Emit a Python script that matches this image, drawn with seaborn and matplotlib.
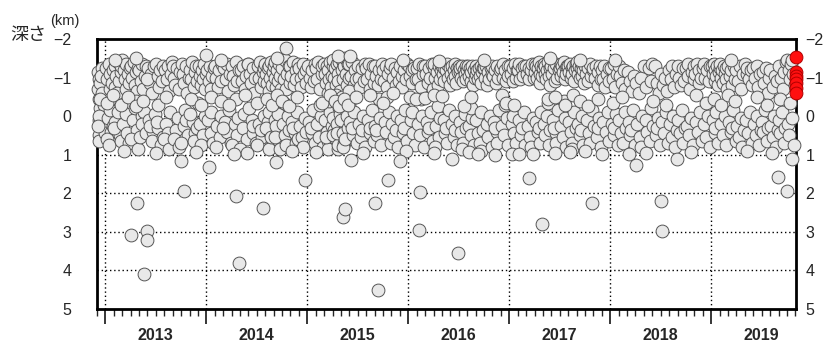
import numpy as np
import pandas as pd
import seaborn as sns
import matplotlib
matplotlib.use('agg')
import matplotlib.pyplot as plt

# (month of year, depth km), one list per year
ev2012 = [(11.1,-1.15),(11.2,-0.95),(11.1,-0.7),(11.3,-0.45),(11.2,0.1),(11.4,-0.2),(11.5,0.35),(11.3,0.5),(11.6,-1.25),
          (11.2,0.65),(11.4,-0.85),(11.7,0.2),(11.5,-1.05),(11.8,-0.3),(11.3,0.0),(11.6,-0.6),(11.9,0.45),(11.1,0.25)]

ev2013 = [(0.1,-1.25),(0.2,-0.95),(0.4,-1.35),(0.5,-0.7),(0.6,-1.1),(0.8,-0.85),(0.9,-1.2),(0.3,0.05),(0.7,0.4),(0.5,-0.15),(0.2,0.6),(0.9,0.25),(0.6,-0.45),(0.4,0.75),
          (1.1,-1.3),(1.3,-1.05),(1.2,-0.75),(1.5,-1.4),(1.6,-0.9),(1.8,-1.15),(1.4,-0.6),(1.9,-1.3),(1.2,0.15),(1.7,0.5),(1.5,-0.1),(1.0,0.3),(1.8,0.65),
          (2.0,-1.45),(2.2,-1.2),(2.3,-0.95),(2.5,-1.35),(2.4,-0.7),(2.7,-1.1),(2.8,-0.85),(2.9,-1.25),(2.1,0.2),(2.6,0.45),(2.4,-0.05),(2.8,0.7),(2.2,0.9),
          (3.1,-1.3),(3.2,-1.0),(3.4,-1.4),(3.5,-0.8),(3.6,-1.15),(3.8,-0.65),(3.9,-1.25),(3.3,0.1),(3.7,0.35),(3.5,-0.2),(3.0,0.6),(3.9,0.85),(3.6,-0.4),
          (4.0,-1.2),(4.2,-0.9),(4.4,-1.35),(4.5,-0.7),(4.7,-1.05),(4.8,-1.3),(4.3,0.0),(4.9,0.3),(4.1,0.55),(4.6,-0.1),(4.4,0.2),(4.8,0.45),
          (5.1,-1.25),(5.3,-0.85),(5.4,-1.1),(5.6,-0.6),(5.8,-1.3),(5.2,0.1),(5.7,0.4),(5.9,-0.05),(5.5,0.65),(5.3,0.25),(5.0,-0.95),
          (6.0,-1.35),(6.2,-1.05),(6.4,-0.75),(6.5,-1.2),(6.7,-0.9),(6.9,-1.3),(6.3,0.3),(6.8,0.55),(6.6,0.75),(6.1,0.15),
          (7.1,-1.2),(7.3,-0.95),(7.4,-1.3),(7.6,-0.65),(7.8,-1.1),(7.9,-1.4),(7.2,0.2),(7.5,0.45),(7.7,-0.1),(7.0,0.6),(7.6,0.85),
          (8.0,-1.3),(8.2,-1.0),(8.3,-0.8),(8.5,-1.25),(8.7,-0.7),(8.9,-1.15),(8.4,0.35),(8.6,0.05),(8.1,0.6),(8.8,0.8),
          (9.1,-1.35),(9.2,-1.1),(9.4,-0.85),(9.6,-1.3),(9.7,-0.6),(9.9,-1.0),(9.3,0.25),(9.5,-0.15),(9.8,0.5),(9.0,0.7),(9.6,0.1),
          (10.0,-1.2),(10.2,-0.95),(10.3,-1.4),(10.5,-0.75),(10.6,-1.15),(10.8,-1.3),(10.9,-0.9),(10.4,0.15),(10.7,0.45),(10.1,-0.05),(10.5,0.65),(10.9,0.3),
          (11.1,-1.3),(11.3,-1.05),(11.4,-0.8),(11.5,-1.2),(11.6,-0.95),(11.7,-1.35),(11.8,-0.7),(11.9,-1.1),(11.2,0.2),(11.6,0.5),(11.8,0.0),(11.4,0.75),(11.0,-0.35)]

ev2014 = [(0.1,-1.2),(0.3,-0.9),(0.4,-1.3),(0.6,-0.7),(0.7,-1.05),(0.9,-1.25),(0.2,0.1),(0.5,0.45),(0.8,0.7),(0.6,-0.1),
          (1.0,-1.3),(1.2,-1.0),(1.4,-0.75),(1.5,-1.2),(1.7,-0.9),(1.9,-1.35),(1.3,0.25),(1.6,0.55),(1.8,0.0),(1.1,0.8),
          (2.1,-1.25),(2.3,-0.95),(2.4,-1.35),(2.6,-0.65),(2.8,-1.1),(2.2,0.15),(2.5,0.4),(2.7,-0.15),(2.9,0.7),(2.0,0.3),
          (3.0,-1.3),(3.2,-1.05),(3.3,-0.8),(3.5,-1.4),(3.7,-0.9),(3.9,-1.2),(3.4,0.2),(3.6,0.5),(3.8,0.05),(3.1,0.75),(3.5,-0.45),
          (4.1,-1.2),(4.2,-0.9),(4.4,-1.3),(4.6,-0.7),(4.7,-1.05),(4.9,-1.35),(4.3,0.3),(4.5,-0.05),(4.8,0.6),(4.0,0.85),
          (5.0,-1.35),(5.2,-1.1),(5.3,-0.85),(5.5,-1.25),(5.7,-0.6),(5.8,-1.0),(5.4,0.1),(5.6,0.45),(5.9,0.7),(5.1,-0.2),(5.5,0.25),
          (6.1,-1.3),(6.2,-1.0),(6.4,-1.4),(6.5,-0.75),(6.7,-1.15),(6.8,-0.9),(6.9,-1.25),(6.3,0.2),(6.6,0.55),(6.8,0.0),(6.0,0.75),(6.5,0.35),
          (7.0,-1.35),(7.1,-1.1),(7.2,-0.85),(7.3,-1.25),(7.4,-0.65),(7.5,-1.3),(7.6,-1.0),(7.7,-1.4),(7.8,-0.8),(7.9,-1.15),
          (7.3,0.15),(7.6,0.45),(7.5,-0.1),(7.8,0.7),(7.1,0.3),(7.4,0.85),(7.7,0.55),
          (8.0,-1.3),(8.1,-1.0),(8.2,-1.4),(8.3,-0.75),(8.4,-1.2),(8.5,-0.9),(8.6,-1.35),(8.8,-1.05),(8.9,-0.7),
          (8.2,0.1),(8.4,0.4),(8.6,0.65),(8.3,0.25),(8.7,0.85),(8.5,-0.05),(8.1,0.55),
          (9.0,-1.25),(9.2,-0.95),(9.3,-1.45),(9.5,-0.7),(9.6,-1.1),(9.8,-1.3),(9.9,-0.85),(9.1,0.2),(9.4,0.5),(9.7,0.0),(9.5,0.75),(9.2,-0.35),(9.8,0.35),
          (10.0,-1.3),(10.1,-1.05),(10.3,-1.4),(10.4,-0.8),(10.6,-1.2),(10.7,-0.95),(10.9,-1.35),(10.2,0.15),(10.5,0.45),(10.8,-0.1),(10.6,0.7),(10.3,0.3),(10.9,0.6),
          (11.0,-1.25),(11.2,-1.0),(11.3,-0.75),(11.5,-1.35),(11.6,-1.1),(11.8,-0.85),(11.9,-1.2),(11.1,0.25),(11.4,0.55),(11.7,0.05),(11.5,0.8),(11.9,0.4)]

ev2015 = [(0.1,-1.3),(0.3,-1.0),(0.4,-0.75),(0.6,-1.2),(0.8,-0.9),(0.9,-1.35),(0.2,0.15),(0.5,0.45),(0.7,-0.15),(0.9,0.7),(0.4,0.3),
          (1.0,-1.25),(1.2,-0.95),(1.3,-1.4),(1.5,-0.7),(1.7,-1.1),(1.8,-1.3),(1.1,0.2),(1.4,0.55),(1.6,0.0),(1.9,0.8),(1.5,-0.3),
          (2.0,-1.35),(2.1,-1.1),(2.2,-0.85),(2.3,-1.3),(2.4,-0.6),(2.5,-1.2),(2.6,-0.95),(2.7,-1.4),(2.8,-0.75),(2.9,-1.05),
          (2.1,0.1),(2.3,0.4),(2.5,0.65),(2.7,-0.1),(2.9,0.25),(2.4,0.85),(2.6,-0.4),(2.2,0.55),
          (3.0,-1.3),(3.1,-1.45),(3.2,-1.0),(3.3,-1.25),(3.4,-0.8),(3.5,-1.35),(3.6,-1.1),(3.7,-0.9),(3.8,-1.4),(3.9,-0.65),
          (3.0,0.05),(3.2,0.35),(3.4,0.6),(3.6,0.85),(3.8,-0.2),(3.1,0.5),(3.3,-0.45),(3.5,0.2),(3.7,0.75),(3.9,-0.05),(3.45,-0.55),(3.55,0.45),
          (4.0,-1.5),(4.1,-1.2),(4.2,-1.4),(4.3,-0.95),(4.4,-1.3),(4.5,-1.5),(4.6,-1.1),(4.7,-0.8),(4.8,-1.35),(4.9,-1.0),
          (4.0,0.1),(4.2,0.45),(4.4,0.7),(4.6,-0.15),(4.8,0.3),(4.1,-0.5),(4.3,0.8),(4.5,0.6),(4.7,0.0),(4.9,-0.3),
          (5.0,-1.35),(5.2,-1.05),(5.3,-1.4),(5.5,-0.8),(5.7,-1.2),(5.8,-0.95),(5.1,0.15),(5.4,0.5),(5.6,-0.1),(5.9,0.7),(5.3,0.3),(5.7,-0.5),(5.0,-0.65),
          (6.0,-1.3),(6.2,-1.0),(6.3,-0.75),(6.5,-1.25),(6.7,-0.9),(6.9,-1.35),(6.1,0.2),(6.4,0.55),(6.6,0.0),(6.8,0.8),(6.5,0.35),
          (7.0,-1.25),(7.1,-0.95),(7.3,-1.35),(7.5,-0.7),(7.6,-1.1),(7.8,-1.3),(7.9,-0.85),(7.2,0.1),(7.4,0.45),(7.7,-0.15),(7.9,0.65),(7.5,0.3),
          (8.0,-1.3),(8.2,-1.05),(8.4,-0.8),(8.5,-1.2),(8.7,-0.95),(8.9,-1.35),(8.1,0.25),(8.3,0.5),(8.6,0.05),(8.8,0.75),(8.5,-0.45),(8.2,0.35),
          (9.0,-1.2),(9.1,-0.9),(9.3,-1.3),(9.5,-0.75),(9.6,-1.1),(9.8,-1.25),(9.2,0.15),(9.4,0.4),(9.7,-0.1),(9.9,0.7),(9.5,-0.5),
          (10.0,-1.35),(10.2,-1.0),(10.4,-1.25),(10.5,-0.8),(10.7,-1.15),(10.9,-0.9),(10.1,0.2),(10.3,0.55),(10.6,0.0),(10.8,0.8),(10.5,0.35),
          (11.0,-1.3),(11.2,-1.05),(11.3,-0.75),(11.5,-1.2),(11.7,-0.95),(11.8,-1.35),(11.1,0.1),(11.4,0.45),(11.6,-0.15),(11.9,0.65),(11.5,0.3)]

ev2016 = [(0.1,-1.3),(0.2,-1.05),(0.4,-1.2),(0.5,-0.85),(0.7,-1.25),(0.9,-0.95),(0.3,0.1),(0.6,0.45),(0.8,0.75),(0.5,-0.1),(0.2,-0.5),
          (1.0,-1.25),(1.2,-0.95),(1.3,-1.35),(1.5,-0.75),(1.7,-1.1),(1.8,-1.3),(1.1,0.2),(1.4,0.5),(1.6,0.0),(1.9,0.8),(1.5,-0.45),
          (2.0,-1.3),(2.1,-1.1),(2.3,-0.85),(2.5,-1.25),(2.6,-1.0),(2.8,-1.35),(2.9,-0.7),(2.2,0.15),(2.4,0.4),(2.7,-0.1),(2.9,0.65),(2.5,0.3),
          (3.0,-1.25),(3.1,-1.35),(3.2,-1.0),(3.4,-1.15),(3.5,-0.8),(3.7,-1.3),(3.8,-0.95),(3.9,-1.2),(3.3,0.25),(3.6,0.55),(3.8,0.05),(3.2,0.8),(3.5,-0.25),
          (4.0,-1.3),(4.1,-1.1),(4.2,-1.25),(4.3,-0.9),(4.5,-1.2),(4.6,-1.35),(4.7,-1.0),(4.9,-0.8),(4.2,0.1),(4.4,0.45),(4.6,0.7),(4.8,-0.15),(4.5,0.3),
          (5.0,-1.25),(5.1,-1.1),(5.2,-1.3),(5.3,-0.95),(5.4,-1.2),(5.5,-1.35),(5.6,-1.05),(5.7,-0.85),(5.8,-1.25),(5.9,-1.15),
          (5.2,0.2),(5.4,0.55),(5.6,0.0),(5.8,0.75),(5.5,0.35),
          (6.0,-1.3),(6.1,-1.15),(6.2,-1.25),(6.3,-1.0),(6.4,-1.3),(6.5,-0.9),(6.6,-1.2),(6.7,-1.1),(6.8,-1.3),(6.9,-0.95),
          (6.1,0.15),(6.3,0.4),(6.5,0.7),(6.7,-0.05),(6.9,0.3),(6.4,0.85),
          (7.0,-1.2),(7.1,-1.3),(7.2,-1.05),(7.3,-1.25),(7.4,-0.9),(7.5,-1.15),(7.6,-1.3),(7.7,-0.8),(7.8,-1.2),(7.9,-1.0),
          (7.2,0.25),(7.4,0.5),(7.6,0.05),(7.8,0.75),(7.5,-0.2),
          (8.0,-1.3),(8.1,-1.1),(8.2,-1.2),(8.3,-0.95),(8.4,-1.25),(8.5,-1.05),(8.6,-1.3),(8.7,-0.85),(8.8,-1.15),(8.9,-1.25),
          (8.1,0.1),(8.3,0.45),(8.5,0.7),(8.7,-0.1),(8.9,0.35),(8.6,0.9),
          (9.0,-1.25),(9.1,-1.0),(9.2,-1.3),(9.4,-0.8),(9.5,-1.15),(9.6,-0.95),(9.8,-1.25),(9.9,-1.1),(9.3,0.2),(9.5,0.55),(9.7,0.0),(9.9,0.8),
          (10.0,-1.3),(10.1,-1.05),(10.3,-1.2),(10.4,-0.85),(10.6,-1.3),(10.7,-1.0),(10.9,-1.2),(10.2,0.15),(10.5,0.4),(10.8,-0.15),(10.6,0.7),(10.3,0.3),
          (11.0,-1.25),(11.2,-1.35),(11.3,-1.0),(11.5,-1.2),(11.6,-0.9),(11.8,-1.3),(11.9,-1.05),(11.1,0.25),(11.4,0.5),(11.7,0.05),(11.9,0.75),(11.5,-0.3)]

ev2017 = [(0.1,-1.3),(0.2,-1.1),(0.4,-1.25),(0.5,-0.9),(0.7,-1.35),(0.8,-1.0),(0.9,-1.2),(0.3,0.2),(0.6,0.45),(0.8,0.7),(0.5,0.0),
          (1.0,-1.2),(1.2,-1.35),(1.3,-0.95),(1.5,-1.25),(1.6,-1.05),(1.8,-1.3),(1.1,0.1),(1.4,0.5),(1.7,-0.1),(1.9,0.75),(1.5,0.3),
          (2.0,-1.3),(2.1,-1.1),(2.3,-1.25),(2.4,-0.95),(2.6,-1.2),(2.7,-1.35),(2.9,-1.0),(2.2,0.25),(2.5,0.55),(2.8,0.05),(2.6,0.8),
          (3.0,-1.35),(3.1,-1.15),(3.2,-1.3),(3.3,-1.0),(3.4,-1.25),(3.5,-1.4),(3.6,-1.1),(3.7,-0.85),(3.8,-1.3),(3.9,-1.05),
          (3.2,0.15),(3.4,0.4),(3.6,0.7),(3.8,-0.1),(3.5,0.3),
          (4.0,-1.25),(4.1,-1.35),(4.2,-1.1),(4.3,-1.3),(4.4,-0.95),(4.5,-1.2),(4.6,-1.4),(4.7,-1.05),(4.8,-1.25),(4.9,-0.8),
          (4.1,0.2),(4.3,0.5),(4.5,0.0),(4.7,0.75),(4.9,0.35),(4.6,-0.35),
          (5.0,-1.3),(5.1,-1.1),(5.3,-1.25),(5.4,-0.9),(5.6,-1.35),(5.7,-1.0),(5.9,-1.2),(5.2,0.1),(5.5,0.45),(5.8,-0.15),(5.6,0.7),(5.3,0.3),
          (6.0,-1.25),(6.1,-1.35),(6.2,-1.05),(6.3,-1.3),(6.4,-1.15),(6.5,-1.4),(6.6,-0.95),(6.7,-1.25),(6.8,-1.1),(6.9,-1.3),
          (6.2,0.25),(6.4,0.55),(6.6,0.05),(6.8,0.8),(6.5,-0.4),
          (7.0,-1.3),(7.1,-1.15),(7.2,-1.35),(7.3,-1.0),(7.4,-1.25),(7.5,-1.1),(7.6,-1.3),(7.7,-0.9),(7.8,-1.2),(7.9,-1.35),
          (7.1,0.15),(7.3,0.4),(7.5,0.7),(7.7,-0.1),(7.9,0.3),(7.4,0.85),
          (8.0,-1.25),(8.1,-1.4),(8.2,-1.1),(8.3,-1.3),(8.4,-1.0),(8.5,-1.25),(8.6,-1.35),(8.7,-1.05),(8.8,-1.2),(8.9,-0.85),
          (8.2,0.2),(8.4,0.5),(8.6,0.0),(8.8,0.75),(8.5,0.35),
          (9.0,-1.3),(9.1,-1.1),(9.3,-1.25),(9.4,-0.9),(9.6,-1.35),(9.7,-1.05),(9.9,-1.2),(9.2,0.1),(9.5,0.45),(9.8,-0.15),(9.6,0.7),
          (10.0,-1.25),(10.2,-1.0),(10.3,-1.3),(10.5,-0.8),(10.6,-1.15),(10.8,-1.3),(10.9,-0.95),(10.1,0.25),(10.4,0.55),(10.7,0.05),(10.9,0.8),(10.5,0.3),
          (11.0,-1.2),(11.1,-0.95),(11.3,-1.3),(11.4,-0.75),(11.6,-1.1),(11.8,-1.25),(11.9,-0.9),(11.2,0.15),(11.5,0.4),(11.7,-0.1),(11.9,0.65)]

ev2018 = [(0.1,-1.25),(0.3,-0.95),(0.4,-1.35),(0.6,-0.75),(0.8,-1.1),(0.2,0.2),(0.5,0.5),(0.7,-0.05),(0.9,0.75),(0.4,0.3),
          (1.0,-1.3),(1.2,-1.05),(1.4,-0.85),(1.6,-1.2),(1.8,-0.7),(1.1,0.1),(1.3,0.45),(1.5,0.7),(1.7,-0.1),(1.9,0.3),
          (2.1,-1.15),(2.3,-0.9),(2.6,-0.65),(2.8,-1.05),(2.2,0.15),(2.4,0.5),(2.7,-0.15),(2.9,0.75),(2.5,0.35),
          (3.1,-0.85),(3.4,-0.6),(3.7,-1.0),(3.2,0.2),(3.5,0.55),(3.8,0.0),(3.6,0.8),
          (4.0,-1.3),(4.3,-0.75),(4.6,-1.25),(4.9,-0.9),(4.2,0.1),(4.4,0.4),(4.7,0.65),(4.8,-0.2),
          (5.0,-1.35),(5.3,-1.3),(5.6,-0.85),(5.8,-0.6),(5.1,0.25),(5.4,0.5),(5.7,0.05),(5.9,0.75),(5.5,0.3),
          (6.0,-1.1),(6.3,-0.8),(6.5,-1.0),(6.8,-0.65),(6.1,0.15),(6.4,0.45),(6.6,-0.1),(6.9,0.7),
          (7.0,-1.2),(7.2,-0.95),(7.4,-1.3),(7.6,-0.75),(7.8,-1.1),(7.1,0.2),(7.3,0.55),(7.5,0.0),(7.7,0.8),(7.9,0.35),
          (8.0,-1.3),(8.2,-1.0),(8.4,-0.8),(8.6,-1.25),(8.8,-0.9),(8.1,0.1),(8.3,0.45),(8.5,-0.15),(8.7,0.7),(8.9,0.3),
          (9.0,-1.25),(9.2,-1.05),(9.3,-1.35),(9.5,-0.7),(9.7,-1.15),(9.9,-0.95),(9.1,0.25),(9.4,0.5),(9.6,0.05),(9.8,0.75),
          (10.0,-1.3),(10.1,-1.1),(10.3,-1.35),(10.5,-0.85),(10.6,-1.2),(10.8,-1.0),(10.2,0.15),(10.4,0.4),(10.7,-0.1),(10.9,0.65),
          (11.0,-1.25),(11.2,-1.35),(11.3,-1.0),(11.5,-1.2),(11.7,-0.9),(11.9,-1.3),(11.1,0.2),(11.4,0.55),(11.6,0.0),(11.8,0.8)]

ev2019 = [(0.1,-1.3),(0.2,-1.1),(0.3,-1.35),(0.4,-0.9),(0.5,-1.2),(0.6,-1.05),(0.7,-1.3),(0.8,-0.8),(0.9,-1.15),
          (0.2,0.1),(0.4,0.45),(0.6,-0.1),(0.8,0.7),(0.5,0.3),
          (1.0,-1.25),(1.1,-1.35),(1.2,-1.0),(1.3,-1.2),(1.4,-0.85),(1.5,-1.3),(1.6,-1.1),(1.7,-0.95),(1.8,-1.25),(1.9,-0.7),
          (1.2,0.2),(1.4,0.5),(1.6,0.0),(1.8,0.75),
          (2.0,-1.3),(2.2,-1.05),(2.3,-1.2),(2.5,-0.8),(2.7,-1.3),(2.8,-0.95),(2.1,0.15),(2.4,0.4),(2.6,-0.15),(2.9,0.65),(2.5,0.3),
          (3.0,-1.2),(3.2,-0.9),(3.4,-1.3),(3.6,-0.7),(3.8,-1.1),(3.1,0.25),(3.3,0.55),(3.5,0.05),(3.7,0.8),(3.9,0.35),
          (4.0,-1.35),(4.2,-1.1),(4.3,-1.25),(4.5,-0.95),(4.7,-1.2),(4.9,-0.8),(4.1,0.1),(4.4,0.45),(4.6,-0.1),(4.8,0.7),
          (5.0,-1.25),(5.2,-1.0),(5.4,-1.3),(5.6,-0.75),(5.8,-1.1),(5.1,0.2),(5.3,0.5),(5.5,0.0),(5.7,0.75),(5.9,0.35),
          (6.1,-1.15),(6.3,-0.85),(6.5,-1.25),(6.7,-0.6),(6.9,-1.0),(6.0,0.15),(6.2,0.4),(6.4,-0.15),(6.6,0.65),(6.8,0.3),
          (7.0,-1.2),(7.3,-0.75),(7.6,-1.05),(7.8,-0.9),(7.1,0.25),(7.4,0.55),(7.5,0.0),(7.7,0.8),(7.9,0.35),
          (8.1,-1.3),(8.3,-1.0),(8.5,-0.7),(8.7,-1.15),(8.9,-1.4),(8.0,0.1),(8.2,0.45),(8.4,-0.1),(8.6,0.7),(8.8,0.3),
          (9.0,-1.45),(9.2,-1.2),(9.4,-0.95),(9.5,-1.35),(9.7,-1.1),(9.9,-0.8),(9.1,0.2),(9.3,0.5),(9.6,0.05),(9.8,0.75)]

# events between the two bands (decimal year, depth)
t_mid = [2012.95, 2013.02, 2013.08, 2013.15, 2013.22, 2013.30, 2013.37, 2013.52, 2013.60, 2013.85, 2013.95,
         2014.05, 2014.15, 2014.22, 2014.38, 2014.50, 2014.60, 2014.65, 2014.70, 2014.75, 2014.82, 2014.90,
         2015.15, 2015.22, 2015.27, 2015.31, 2015.36, 2015.40, 2015.48, 2015.62, 2015.75, 2015.85,
         2016.08, 2016.17, 2016.25, 2016.33, 2016.55, 2016.62, 2016.93, 2016.97, 2017.05, 2017.38,
         2017.45, 2017.55, 2017.63, 2017.70, 2017.78, 2017.88, 2018.03, 2018.12, 2018.42, 2018.55,
         2018.85, 2018.95, 2019.03, 2019.10, 2019.17, 2019.24, 2019.45, 2019.55, 2019.68, 2019.78]
d_mid = [-0.45, -0.35, -0.55, -0.3, -0.5, -0.25, -0.4, -0.3, -0.5, -0.45, -0.3,
         -0.5, -0.4, -0.3, -0.55, -0.35, -0.45, -0.3, -0.55, -0.4, -0.25, -0.5,
         -0.35, -0.55, -0.4, -0.25, -0.45, -0.3, -0.5, -0.55, -0.35, -0.6,
         -0.45, -0.47, -0.55, -0.52, -0.25, -0.5, -0.55, -0.35, -0.3, -0.45,
         -0.5, -0.3, -0.55, -0.4, -0.25, -0.45, -0.35, -0.5, -0.4, -0.3,
         -0.55, -0.35, -0.45, -0.3, -0.55, -0.4, -0.5, -0.3, -0.45, -0.35]

# events on the top and bottom edges of the bands
t_edge = [2013.10, 2013.30, 2014.15, 2014.70, 2015.30, 2015.42, 2015.95, 2016.30, 2016.75, 2017.40, 2017.70,
          2018.05, 2019.20, 2019.80, 2013.50, 2013.90, 2014.40, 2014.85, 2015.55, 2015.98, 2016.25, 2016.60,
          2017.45, 2017.75, 2018.35, 2018.80, 2019.35, 2019.60]
d_edge = [-1.45, -1.5, -1.45, -1.5, -1.55, -1.55, -1.45, -1.42, -1.45, -1.5, -1.45,
          -1.45, -1.45, -1.45, 0.95, 0.92, 0.95, 0.9, 0.95, 0.9, 0.95, 0.92,
          0.95, 0.9, 0.95, 0.92, 0.9, 0.95]

# isolated shallow / deep events (decimal year, depth)
t_single = [2014.0, 2014.79, 2013.31, 2013.25, 2013.41, 2013.41, 2013.38, 2013.75, 2013.78, 2014.03, 2014.27, 2014.29,
            2014.32, 2014.56, 2014.69, 2014.98, 2015.09, 2015.35, 2015.37, 2015.43, 2015.67, 2015.70, 2015.80, 2015.92,
            2016.11, 2016.12, 2016.43, 2016.49, 2016.69, 2016.86, 2017.03, 2017.10, 2017.20, 2017.24, 2017.32, 2017.60,
            2017.82, 2017.92, 2018.19, 2018.26, 2018.50, 2018.51, 2018.66, 2019.66, 2019.75, 2019.80]
d_single = [-1.58, -1.77, 2.26, 3.09, 2.99, 3.2, 4.1, 1.17, 1.95, 1.33, 0.99, 2.08,
            3.8, 2.37, 1.19, 1.66, 0.93, 2.62, 2.4, 1.14, 2.26, 4.52, 1.66, 1.17,
            2.96, 1.97, 1.11, 3.56, 0.97, 1.0, 0.99, 0.98, 1.6, 0.97, 2.8, 0.93,
            2.26, 0.99, 0.99, 1.26, 2.21, 2.99, 1.1, 1.57, 1.95, 1.12]

# latest events, highlighted in red
t_recent = [2019.84, 2019.84, 2019.84, 2019.84, 2019.84, 2019.84, 2019.84]
d_recent = [-1.53, -1.15, -1.05, -0.95, -0.85, -0.72, -0.6]

years = [2013, 2014, 2015, 2016, 2017, 2018, 2019]
depth_ticks = [-2, -1, 0, 1, 2, 3, 4, 5]

by_year = [(2012, ev2012), (2013, ev2013), (2014, ev2014), (2015, ev2015),
           (2016, ev2016), (2017, ev2017), (2018, ev2018), (2019, ev2019)]
rows = []
for yr, ev in by_year:
    for m, d in ev:
        rows.append((yr + m / 12.0, d))
for ts, ds in [(t_mid, d_mid), (t_edge, d_edge), (t_single, d_single)]:
    rows.extend(zip(ts, ds))
df = pd.DataFrame(rows, columns=['t', 'depth'])
recent = pd.DataFrame({'t': t_recent, 'depth': d_recent})

sns.set_style('white')
plt.rcParams['font.family'] = ['Liberation Sans', 'Noto Sans CJK JP', 'DejaVu Sans']

fig = plt.figure(figsize=(8.33, 3.42), dpi=100)
ax = fig.add_axes([0.1164, 0.0965, 0.8392, 0.7895])

dots = dict(linestyle=(0, (1, 2)), color='black', linewidth=1.0, zorder=0)
for y in years:
    ax.axvline(y, **dots)
for d in depth_ticks[1:-1]:
    ax.axhline(d, **dots)

sns.scatterplot(data=df, x='t', y='depth', ax=ax, s=85, color='#e8e8e8',
                edgecolor='#555555', linewidth=0.7, clip_on=False, zorder=3, legend=False)
sns.scatterplot(data=recent, x='t', y='depth', ax=ax, s=85, color='#ff1010',
                edgecolor='#b00000', linewidth=0.7, clip_on=False, zorder=4, legend=False)

ax.set_xlim(2012.92, 2019.84)
ax.set_ylim(5, -2)
ax.set_xlabel('')
ax.set_ylabel('')

for sp in ax.spines.values():
    sp.set_linewidth(2.0)
    sp.set_color('black')

# month ticks and long year ticks on the bottom axis
ax.set_xticks(years)
ax.set_xticks(np.arange(2013 - 1 / 12.0, 2019.84, 1 / 12.0), minor=True)
ax.tick_params(axis='x', which='major', direction='out', length=11, width=1.3, labelbottom=False, bottom=True)
ax.tick_params(axis='x', which='minor', direction='out', length=5, width=1.0, bottom=True)

# year names centred in each year
yl = ax.secondary_xaxis('bottom')
yl.set_xticks([y + 0.5 for y in years], [str(y) for y in years])
yl.tick_params(length=0, pad=14, labelsize=11.5)
for lab in yl.get_xticklabels():
    lab.set_fontweight('bold')
yl.spines['bottom'].set_visible(False)

ax.set_yticks(depth_ticks)
ax.tick_params(axis='y', left=False, right=False, labelleft=True, labelsize=11.5, pad=15)
ry = ax.secondary_yaxis('right')
ry.set_yticks(depth_ticks)
ry.tick_params(length=0, pad=7, labelsize=11.5)
ry.spines['right'].set_visible(False)

fig.text(0.012, 0.895, '深さ', fontsize=13, va='center', ha='left')
fig.text(0.06, 0.94, '(km)', fontsize=10.5, va='center', ha='left')

plt.savefig('out.png', dpi=100)
plt.close('all')
